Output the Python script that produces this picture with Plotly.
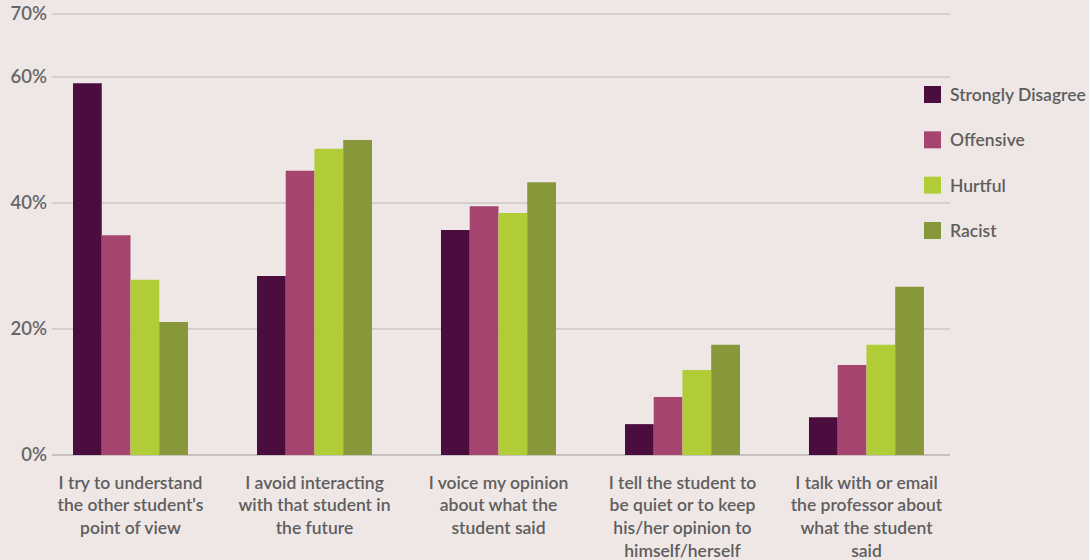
import plotly.graph_objects as go

# Survey responses: share of students choosing each action, by how the remark was rated
categories = [
    "I try to understand<br>the other student's<br>point of view",
    "I avoid interacting<br>with that student in<br>the future",
    "I voice my opinion<br>about what the<br>student said",
    "I tell the student to<br>be quiet or to keep<br>his/her opinion to<br>himself/herself",
    "I talk with or email<br>the professor about<br>what the student<br>said",
]
series_names = ["Strongly Disagree", "Offensive", "Hurtful", "Racist"]
strongly_disagree = [59.0, 28.4, 35.7, 4.9, 6.0]
offensive = [34.9, 45.1, 39.5, 9.2, 14.3]
hurtful = [27.8, 48.6, 38.4, 13.5, 17.5]
racist = [21.1, 50.0, 43.3, 17.5, 26.7]
series_values = [strongly_disagree, offensive, hurtful, racist]
colors = ["#4a0d3e", "#a4446f", "#b0cc36", "#88973a"]

y_tickvals = [0, 20, 40, 60, 70]
y_ticktext = ["0%", "20%", "40%", "60%", "70%"]

FONT = "Lato"
WEIGHT = 600
TEXT = "#5e5e5e"
BG = "#efe7e6"

fig = go.Figure()
for name, vals, col in zip(series_names, series_values, colors):
    fig.add_trace(go.Bar(
        x=list(range(len(categories))), y=vals, name=name,
        marker=dict(color=col, line=dict(width=0)),
        showlegend=False,
    ))

# Plot area geometry (pixels); the y range is padded slightly so the 70% grid line shows
W, H = 1089, 560
ml, mr, mt, mb = 52, 139, 12, 105
pw, ph = W - ml - mr, H - mt - mb
px_per_unit = 441 / 70
y_max = 70 + 2 / px_per_unit

def to_paper_y(py):
    return (H - mb - py) / ph

shapes = []
annotations = []
sq = 17
for i, (name, col) in enumerate(zip(series_names, colors)):
    cy = 94.5 + i * 45.33
    shapes.append(dict(type="rect", xref="paper", yref="paper",
                       x0=(924 - ml) / pw, x1=(924 + sq - ml) / pw,
                       y0=to_paper_y(cy + sq / 2), y1=to_paper_y(cy - sq / 2),
                       fillcolor=col, line=dict(width=0), layer="above"))
    annotations.append(dict(xref="paper", yref="paper",
                            x=(948 - ml) / pw, y=to_paper_y(cy),
                            xanchor="left", yanchor="middle", showarrow=False,
                            text=name,
                            font=dict(family=FONT, size=17.5, color=TEXT, weight=WEIGHT)))

fig.update_layout(
    width=W, height=H,
    margin=dict(l=ml, r=mr, t=mt, b=mb, autoexpand=False),
    paper_bgcolor=BG, plot_bgcolor=BG,
    barmode="group", bargap=0.375, bargroupgap=0,
    font=dict(family=FONT, size=17, color=TEXT),
    shapes=shapes, annotations=annotations,
    xaxis=dict(
        tickmode="array", tickvals=list(range(len(categories))), ticktext=categories,
        range=[-0.4266, 4.454], showgrid=False, zeroline=False, showline=False,
        ticks="", tickfont=dict(family=FONT, size=17.5, color=TEXT, weight=WEIGHT),
        ticklabelstandoff=15,
    ),
    yaxis=dict(
        range=[0, y_max], tickvals=y_tickvals, ticktext=y_ticktext,
        showgrid=True, gridcolor="#d6cfcd", gridwidth=1.5,
        zeroline=True, zerolinecolor="#c9c1c0", zerolinewidth=1.5,
        showline=False, ticks="", ticklabelstandoff=4,
        tickfont=dict(family=FONT, size=18.5, color="#666666", weight=WEIGHT),
    ),
)

fig.write_html("out.html")
